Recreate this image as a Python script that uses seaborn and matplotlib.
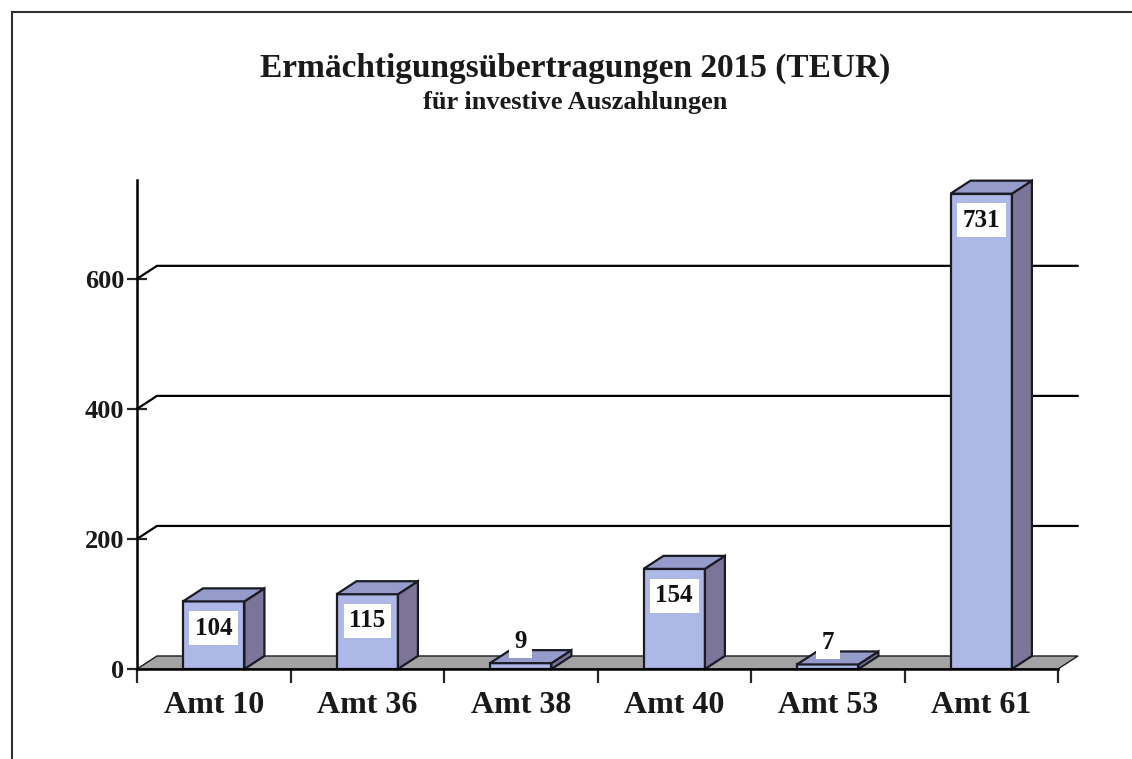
import numpy as np
import matplotlib
matplotlib.use("Agg")
import matplotlib.pyplot as plt
import seaborn as sns
from matplotlib.patches import Polygon, Rectangle

# data
categories = ["Amt 10", "Amt 36", "Amt 38", "Amt 40", "Amt 53", "Amt 61"]
values = [104, 115, 9, 154, 7, 731]
y_ticks = [0, 200, 400, 600]

front_col = "#AEB8E6"
top_col = "#959CCB"
side_col = "#7C7499"
floor_col = "#A3A3A3"
edge_col = "#1b1b24"

sns.set_theme(style="white")
plt.rcParams["font.family"] = ["Liberation Serif", "DejaVu Serif"]
plt.rcParams["font.weight"] = "bold"

fig = plt.figure(figsize=(11.32, 7.59), dpi=100)
ax = fig.add_axes([137 / 1132, 90 / 759, 921 / 1132, 489 / 759])
ax.patch.set_alpha(0)

# depth of the fake 3d effect (data units)
dx, dy = 0.13, 20.0

ax.set_xlim(-0.5, 5.5)
ax.set_ylim(0, 752)

# floor
ax.add_patch(Polygon([(-0.5, 0), (5.5, 0), (5.5 + dx, dy), (-0.5 + dx, dy)],
                     closed=True, facecolor=floor_col, edgecolor=edge_col,
                     linewidth=1.0, zorder=1, clip_on=False))

# grid lines on the back wall
for t in y_ticks[1:]:
    ax.plot([-0.5, -0.5 + dx, 5.5 + dx], [t, t + dy, t + dy], color="black",
            linewidth=1.6, zorder=0.5, clip_on=False)

sns.barplot(x=categories, y=values, width=0.4, color=front_col,
            edgecolor=edge_col, linewidth=1.6, saturation=1, ax=ax, zorder=3)

for p, v in zip(ax.containers[0], values):
    x0 = p.get_x()
    w = p.get_width()
    h = p.get_height()
    x1 = x0 + w
    top = Polygon([(x0, h), (x1, h), (x1 + dx, h + dy), (x0 + dx, h + dy)],
                  closed=True, facecolor=top_col, edgecolor=edge_col,
                  linewidth=1.6, zorder=3, clip_on=False)
    side = Polygon([(x1, 0), (x1 + dx, dy), (x1 + dx, h + dy), (x1, h)],
                   closed=True, facecolor=side_col, edgecolor=edge_col,
                   linewidth=1.6, zorder=3, clip_on=False)
    ax.add_patch(side)
    ax.add_patch(top)
    if v > 40:
        ty = h - 41
    else:
        ty = h + dy + 14
    ax.text(x0 + w / 2, ty, str(v), ha="center", va="center", fontsize=18,
            fontweight="bold", color="#111111", zorder=5,
            bbox=dict(facecolor="white", edgecolor="none", pad=4))

# axes styling
sns.despine(ax=ax, top=True, right=True)
for s in ["left", "bottom"]:
    ax.spines[s].set_color("black")
    ax.spines[s].set_linewidth(1.8)
    ax.spines[s].set_zorder(4)
ax.set_yticks(y_ticks)
ax.set_yticklabels([str(t) for t in y_ticks], fontsize=19, fontweight="bold",
                   color="#1a1a1a")
ax.tick_params(axis="y", direction="inout", length=14, width=1.6, pad=2,
               left=True)
ax.set_xticks(range(len(categories)))
ax.set_xticklabels(categories, fontsize=23, fontweight="bold", color="#1a1a1a")
ax.tick_params(axis="x", which="major", length=0, pad=16)
ax.set_xticks(np.arange(-0.5, 6.0, 1.0), minor=True)
ax.tick_params(axis="x", which="minor", direction="out", length=10, width=1.6,
               bottom=True)
ax.set_xlabel("")
ax.set_ylabel("")
ax.grid(False)

# title
fig.text(0.508, 1 - 68 / 759, "Ermächtigungsübertragungen 2015 (TEUR)",
         ha="center", va="center", fontsize=24, fontweight="bold",
         color="#1a1a1a")
fig.text(0.508, 1 - 102 / 759, "für investive Auszahlungen",
         ha="center", va="center", fontsize=19, fontweight="bold",
         color="#1a1a1a")

# outer frame of the chart area
fig.patches.append(Rectangle((12 / 1132, -0.05), 1.0, 1 - 12 / 759 + 0.05,
                             transform=fig.transFigure, fill=False,
                             edgecolor="#333333", linewidth=1.5))

fig.savefig("out.png", dpi=100)
